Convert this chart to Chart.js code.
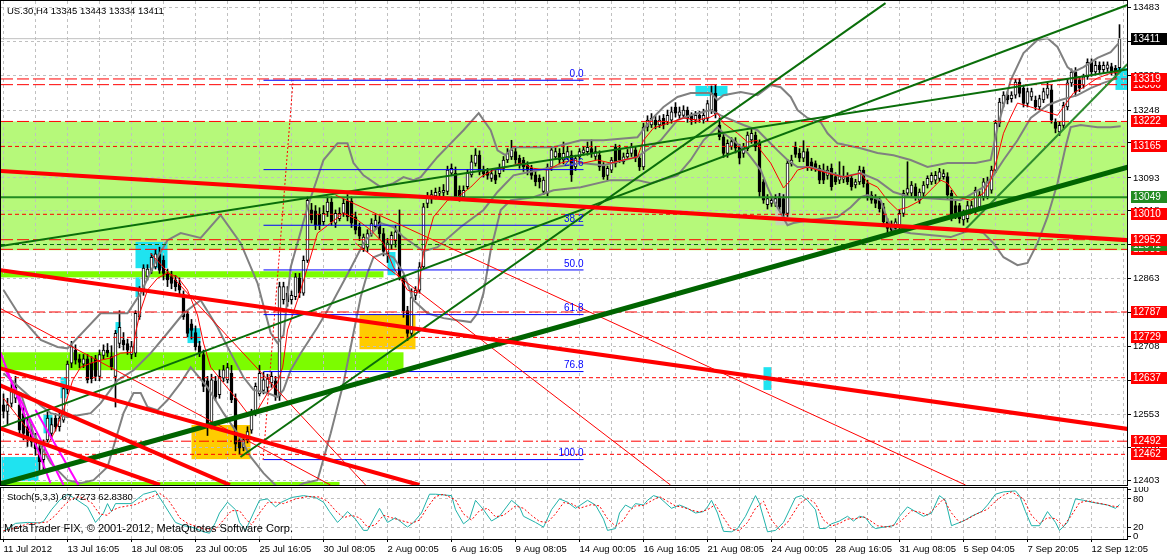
<!DOCTYPE html>
<html>
<head>
<meta charset="utf-8">
<title>US.30,H4</title>
<script src="https://cdn.jsdelivr.net/npm/chart.js@4.4.0/dist/chart.umd.min.js"></script>
<style>
  html, body { margin: 0; padding: 0; background: #fff; }
  #wrap { position: relative; width: 1167px; height: 556px; overflow: hidden; font-family: Tahoma, 'Liberation Sans', Arial, sans-serif; }
  #main { position: absolute; left: 0; top: 0; }
  #stoch { position: absolute; left: 0; top: 487px; }
  .txt { position: absolute; color: #000; white-space: pre; line-height: 12px; }
</style>
</head>
<body>
<div id="wrap">
  <canvas id="main" width="1167" height="486"></canvas>
  <canvas id="stoch" width="1167" height="69"></canvas>
  <div class="txt" style="left:7px;top:5px;font-size:9.5px;">US.30,H4 13345 13443 13334 13411</div>
  <div class="txt" style="left:7px;top:491px;font-size:9.5px;">Stoch(5,3,3) 67.7273 62.8380</div>
  <div class="txt" style="left:4px;top:522px;font-size:11px;">MetaTrader FIX, © 2001-2012, MetaQuotes Software Corp.</div>
</div>
<script>
// ---- price data (H4 bars) ----
const opens = [
  12575,12560,12578,12590,12575,12555,12525,12515,12495,12475, 12450,12495,12510,12545,12525,12540,12610,12670,12700,12680,
  12668,12680,12670,12680,12640,12688,12700,12685,12640,12715, 12723,12715,12690,12693,12776,12835,12868,12882,12890,12920,
  12905,12875,12868,12860,12852,12826,12783,12760,12740,12710, 12690,12630,12530,12630,12598,12636,12632,12647,12590,12495,
  12478,12495,12517,12556,12600,12608,12615,12625,12630,12595, 12815,12830,12815,12822,12865,12830,12905,13020,13018,13010,
  12993,13016,13038,12990,13000,13012,13040,13040,13004,12980, 12932,12935,12966,12982,12993,12966,12920,12940,12950,12966,
  12866,12790,12738,12825,12837,12890,13035,13045,13052,13058, 13060,13062,13104,13104,13065,13050,13073,13100,13126,13145,
  13111,13107,13092,13100,13103,13115,13134,13141,13153,13138, 13134,13122,13115,13100,13092,13062,13058,13118,13141,13149,
  13134,13141,13145,13118,13141,13150,13153,13160,13142,13145, 13122,13099,13111,13164,13160,13130,13141,13149,13157,13138,
  13118,13209,13214,13225,13214,13229,13221,13225,13255,13236, 13236,13248,13236,13225,13236,13225,13229,13248,13286,13214,
  13187,13149,13165,13176,13164,13149,13160,13180,13191,13172, 13084,13032,13035,13035,13050,13046,13012,13125,13163,13149,
  13138,13153,13130,13126,13115,13111,13099,13115,13096,13088, 13090,13096,13092,13077,13084,13111,13080,13054,13046,13042,
  13027,12993,12985,12978,12982,13012,13058,13058,13073,13042, 13058,13077,13084,13088,13092,13096,13096,13058,13030,13030,
  12997,13000,13019,13019,13027,13050,13050,13065,13111,13218, 13263,13282,13274,13282,13312,13298,13263,13278,13271,13255,
  13271,13282,13294,13221,13198,13213,13255,13310,13335,13317, 13305,13324,13357,13335,13350,13340,13343,13347,13343,13345
];
const highs = [
  12600,12590,12625,12640,12600,12570,12545,12530,12510,12485, 12495,12560,12545,12555,12560,12620,12675,12720,12712,12690,
  12690,12690,12685,12688,12700,12712,12715,12710,12745,12790, 12740,12725,12720,12790,12845,12895,12895,12920,12930,12935,
  12915,12885,12880,12870,12865,12835,12790,12770,12755,12720, 12700,12640,12645,12640,12655,12665,12670,12665,12600,12500,
  12505,12525,12565,12625,12665,12650,12645,12650,12640,12855, 12855,12845,12835,12875,12875,12915,13050,13035,13030,13025,
  13030,13050,13050,13020,13025,13045,13055,13050,13015,12990, 12965,12975,13000,13010,13005,12978,12955,12970,12985,13020,
  12870,12800,12840,12845,12900,13035,13060,13065,13070,13072, 13078,13120,13125,13118,13075,13075,13112,13145,13160,13155,
  13120,13115,13112,13110,13125,13142,13160,13179,13165,13145, 13140,13130,13122,13108,13100,13095,13125,13165,13162,13160,
  13175,13165,13155,13145,13160,13165,13175,13180,13165,13155, 13128,13120,13140,13170,13168,13150,13158,13172,13165,13145,
  13218,13235,13240,13235,13235,13238,13248,13255,13265,13255, 13258,13255,13242,13245,13245,13250,13270,13303,13305,13230,
  13195,13180,13185,13185,13170,13172,13198,13205,13198,13180, 13090,13055,13050,13055,13058,13055,13135,13145,13175,13160,
  13178,13160,13138,13132,13122,13125,13120,13125,13105,13130, 13120,13105,13100,13090,13120,13118,13088,13062,13055,13050,
  13035,13000,12995,13000,13020,13065,13130,13085,13080,13068, 13085,13098,13105,13108,13115,13112,13105,13065,13040,13035,
  13020,13040,13040,13072,13062,13092,13095,13120,13225,13275, 13290,13290,13290,13318,13320,13305,13298,13298,13280,13282,
  13298,13310,13305,13228,13220,13266,13318,13342,13345,13325, 13330,13365,13365,13360,13358,13358,13358,13355,13350,13443
];
const lows = [
  12545,12530,12570,12580,12505,12495,12480,12480,12460,12420, 12418,12490,12500,12515,12515,12535,12600,12660,12668,12660,
  12660,12625,12625,12630,12630,12680,12685,12655,12570,12705, 12700,12690,12680,12685,12770,12825,12860,12875,12885,12875,
  12860,12845,12840,12835,12825,12770,12730,12725,12700,12685, 12605,12505,12520,12585,12590,12628,12625,12580,12470,12462,
  12470,12488,12510,12550,12595,12600,12605,12615,12585,12585, 12805,12800,12805,12815,12820,12825,12900,12990,12975,12975,
  12985,13005,12985,12980,12995,13005,12995,12980,12965,12950, 12925,12925,12960,12975,12955,12915,12900,12930,12935,12860,
  12775,12722,12730,12815,12830,12885,13025,13035,13045,13050, 13052,13055,13098,13045,13040,13042,13068,13095,13120,13100,
  13095,13090,13085,13080,13095,13108,13128,13135,13126,13115, 13108,13100,13090,13075,13070,13055,13052,13110,13135,13125,
  13125,13135,13085,13110,13135,13145,13145,13140,13135,13110, 13090,13088,13105,13118,13128,13125,13135,13142,13130,13110,
  13112,13200,13208,13205,13208,13205,13215,13218,13232,13228, 13230,13220,13215,13218,13220,13218,13222,13240,13230,13180,
  13140,13140,13158,13150,13125,13140,13155,13172,13155,13050, 13035,13022,13028,13028,13020,13000,13005,13120,13140,13130,
  13130,13110,13110,13108,13080,13080,13090,13065,13078,13080, 13082,13078,13065,13070,13078,13072,13042,13035,13025,13015,
  12985,12968,12965,12968,12975,13005,13050,13050,13042,13035, 13050,13070,13078,13080,13085,13090,13045,12995,13000,12990,
  12985,12992,13012,13012,13020,13042,13045,13058,13105,13210, 13255,13262,13266,13275,13278,13255,13255,13270,13248,13248,
  13265,13275,13218,13196,13190,13206,13248,13302,13280,13290, 13298,13318,13325,13328,13332,13332,13336,13328,13322,13334
];
const closes = [
  12560,12575,12605,12615,12517,12510,12500,12490,12475,12445, 12487,12545,12530,12525,12545,12612,12668,12708,12677,12672,
  12680,12632,12635,12640,12690,12700,12693,12662,12738,12752, 12712,12700,12708,12784,12837,12887,12885,12912,12920,12882,
  12875,12860,12852,12845,12837,12776,12738,12745,12708,12693, 12617,12525,12632,12593,12640,12655,12660,12586,12485,12476,
  12495,12514,12556,12617,12647,12632,12635,12640,12593,12845, 12845,12810,12825,12867,12830,12905,13042,12997,12985,12985,
  13012,13038,12993,13012,13012,13035,13004,12990,12974,12960, 12958,12966,12989,12997,12966,12925,12945,12962,12970,12867,
  12790,12738,12820,12837,12890,13027,13050,13055,13060,13062, 13065,13111,13115,13050,13050,13065,13104,13130,13145,13107,
  13103,13099,13103,13088,13115,13134,13149,13157,13134,13122, 13118,13111,13099,13084,13084,13088,13118,13157,13153,13134,
  13149,13153,13100,13137,13153,13157,13163,13149,13153,13118, 13096,13115,13134,13126,13134,13141,13149,13164,13138,13118,
  13209,13225,13229,13214,13225,13214,13236,13244,13241,13244, 13248,13229,13225,13236,13229,13236,13263,13286,13240,13187,
  13149,13172,13176,13161,13138,13164,13191,13195,13164,13061, 13042,13046,13042,13046,13027,13012,13127,13134,13147,13138,
  13153,13118,13118,13115,13088,13088,13111,13073,13084,13096, 13094,13084,13073,13084,13111,13080,13050,13042,13035,13023,
  12993,12978,12974,12993,13012,13058,13069,13077,13050,13061, 13077,13092,13099,13099,13107,13103,13054,13004,13012,13000,
  13012,13030,13030,13065,13054,13084,13084,13111,13218,13266, 13282,13271,13282,13312,13286,13263,13290,13290,13255,13274,
  13290,13298,13225,13206,13213,13259,13310,13335,13289,13298, 13324,13357,13335,13350,13340,13350,13351,13336,13332,13411
];

// time axis labels, one every 16 bars
const timeLabels = ['11 Jul 2012', '13 Jul 16:05', '18 Jul 08:05', '23 Jul 00:05', '25 Jul 16:05', '30 Jul 08:05',
  '2 Aug 00:05', '6 Aug 16:05', '9 Aug 08:05', '14 Aug 00:05', '16 Aug 16:05', '21 Aug 08:05', '24 Aug 00:05',
  '28 Aug 16:05', '31 Aug 08:05', '5 Sep 04:05', '7 Sep 20:05', '12 Sep 12:05'];
const priceTicks = [12403, 12478, 12553, 12630, 12708, 12785, 12863, 12940, 13018, 13093, 13173, 13248, 13328, 13405, 13483];
const stochTicks = [0, 20, 80, 100];

// moving average [bar, price]
const maLine = [[0,12590],[4.3,12540],[8,12494],[11,12483],[13,12517],[15,12563],[17.3,12631],[19.3,12661],[21.8,12670],
  [24.3,12677],[26.8,12682],[29.3,12693],[32.3,12695],[33,12739],[34.3,12791],[36,12837],[38.5,12864],[41,12876],
  [43.5,12867],[46,12837],[48.5,12780],[50,12716],[51.8,12661],[55,12625],[58.5,12586],[61,12556],[63.5,12563],
  [66,12602],[68.5,12625],[69.8,12661],[71,12746],[73.5,12814],[76,12889],[78.5,12967],[81.8,12990],[85,13013],
  [88.5,12997],[91.8,12974],[95,12944],[97.5,12889],[101,12837],[103.5,12830],[105,12921],[107.5,13004],[111,13042],
  [113.5,13049],[116.8,13072],[119.3,13095],[122.5,13111],[126,13118],[129.3,13127],[132.5,13115],[136,13111],
  [139.3,13127],[142.5,13134],[145,13127],[148.5,13134],[151.8,13127],[155,13134],[158.5,13141],[160,13179],
  [162.5,13207],[166.8,13220],[170,13230],[173.5,13225],[176.8,13232],[178.5,13241],[180,13218],[183.5,13195],
  [186,13175],[188.5,13179],[189.3,13156],[191.8,13127],[195,13070],[196.8,13088],[198.5,13111],[201,13118],
  [206,13104],[210,13095],[214.3,13104],[216,13083],[218.5,13072],[221,13042],[223.5,13020],[226,13026],[229.3,13042],
  [232.5,13072],[234.3,13088],[236,13081],[238.5,13049],[241.8,13042],[245,13058],[246.8,13088],[248.5,13141],
  [250,13195],[251.8,13232],[253.5,13264],[256.8,13255],[259.3,13248],[261.8,13241],[263.5,13236],[265,13255],
  [267.5,13287],[270,13300],[273.5,13321],[276.8,13332],[279.3,13335]];

// bollinger bands [bar, price]
const bbUpper = [[0,12837],[4.3,12775],[9.3,12723],[13.5,12707],[16,12704],[24.3,12784],[31,12784],[34.3,12830],
  [38.5,12912],[41,12951],[44.3,12967],[49.3,12956],[54.3,13008],[59.3,12944],[63.5,12853],[66.8,12739],[68.5,12716],
  [70,12734],[71.8,12889],[76,13026],[80,13134],[83.5,13172],[86,13172],[87.5,13127],[90,13099],[94.3,13072],
  [97.5,13081],[100,13095],[102.5,13088],[104.3,13095],[108.5,13141],[111.8,13172],[115,13202],[118.8,13241],
  [121.8,13202],[123.5,13156],[125.5,13145],[127.5,13163],[137.5,13163],[144.3,13179],[150,13179],[158.5,13186],
  [161.8,13225],[165,13255],[168.5,13278],[171.8,13287],[176.8,13287],[178.5,13271],[180,13282],[184.3,13289],
  [188.5,13282],[191.8,13305],[194.3,13300],[196.8,13278],[198.5,13248],[201,13230],[204.3,13220],[206,13195],
  [208.5,13172],[214.3,13161],[218.5,13150],[222.5,13145],[226.8,13134],[231,13118],[236,13127],[243,13127],
  [246.8,13134],[248.5,13209],[251.8,13316],[255,13378],[258.5,13408],[261,13412],[263.5,13392],[266,13346],
  [267.5,13335],[270,13346],[273.5,13367],[276.8,13380],[278.8,13401]];
const bbMiddle = [[0,12647],[7.5,12586],[11.8,12556],[16,12547],[21.8,12556],[24.3,12579],[28.5,12631],[32.5,12654],
  [36.8,12693],[41,12739],[45,12784],[49.3,12814],[53.5,12752],[56.8,12693],[60,12638],[62.5,12609],[66,12602],
  [68.5,12593],[70,12609],[71.8,12654],[74.3,12693],[78.5,12752],[82.5,12814],[86.8,12887],[90,12944],[94.3,12990],
  [97.5,12981],[100,12958],[105,12926],[108.5,12935],[114.3,12981],[120,13020],[123.5,13061],[127.5,13099],
  [136,13115],[144.3,13127],[150,13122],[158.5,13141],[164.3,13179],[168.5,13225],[171.8,13236],[176.8,13248],
  [179.3,13236],[185,13214],[188.5,13202],[191,13179],[193.5,13156],[196,13134],[198.5,13118],[201.8,13118],
  [210,13095],[214.3,13104],[218.5,13088],[222.5,13061],[226.8,13049],[239.3,13042],[245,13072],[247.5,13099],
  [250,13134],[253.5,13179],[256.8,13230],[261,13259],[264.3,13271],[268.5,13282],[271.8,13298],[275,13310],
  [278.5,13321]];
const bbLower = [[0,12615],[4.3,12602],[7.5,12510],[11.8,12442],[16,12403],[19.3,12396],[22.5,12403],[26,12433],
  [28.5,12510],[30,12556],[32.5,12602],[34.3,12602],[36,12570],[38.5,12563],[41,12586],[44.3,12625],[46.8,12661],
  [51,12615],[55,12556],[58.5,12510],[61.8,12456],[65,12419],[68.5,12387],[71.8,12380],[75,12396],[78.5,12403],
  [81.8,12510],[85,12625],[87.5,12739],[89.3,12821],[91,12876],[92.5,12912],[95,12921],[97.5,12912],[100,12876],
  [102.5,12814],[106,12784],[110,12773],[113.5,12768],[116.8,12764],[118.5,12784],[120,12830],[121.8,12928],
  [124.3,13020],[126.8,13042],[132.5,13049],[137.5,13065],[144.3,13072],[151.8,13088],[158.5,13088],[161.8,13081],
  [168.5,13099],[171.8,13134],[175,13179],[178.5,13209],[180,13195],[182.5,13179],[186,13150],[189.3,13111],
  [191,13072],[192.5,13042],[194.3,13013],[196,12985],[197.5,12990],[201.8,12997],[208.5,13004],[211.8,13026],
  [214.3,13049],[216,13054],[219.3,13042],[221,12997],[222.5,12974],[226.8,12967],[236.8,12958],[241.8,12974],
  [245,12967],[247.5,12944],[250,12912],[253.5,12894],[256,12899],[258.5,12944],[261,13004],[263.5,13081],
  [265.5,13163],[266.8,13209],[269.3,13214],[273.5,13209],[276.8,13209],[279.3,13211]];

// stochastic [bar, value]
const stochMain = [[0,10],[3,28],[6,30],[9,29],[10,32],[12,57],[14,77],[16,90],[18,80],[21,63],[23,30],[25,50],[26,70],
  [27,53],[28,70],[32,70],[35,90],[38,97],[40,70],[42,43],[43,30],[45,23],[47,20],[50,10],[51.5,7],[53,30],[54,50],
  [56,73],[58,57],[59,30],[60.5,13],[62.5,50],[64,77],[66,80],[68,63],[69.5,73],[72,83],[75,87],[78,83],[80,73],
  [81.5,53],[83.5,30],[85,43],[86,53],[88,37],[90,13],[91,13],[94,60],[96,30],[98,40],[101,20],[102.5,30],[104.5,50],
  [106.5,90],[108,90],[112,87],[113,57],[115,27],[116.5,37],[118,77],[120,57],[122,33],[124,43],[127,77],[129,63],
  [130,43],[133,30],[135,20],[137,57],[139,80],[141,73],[143,60],[146,77],[148,67],[150,37],[151,13],[153,17],[154,50],
  [155.5,67],[157,60],[158,70],[160,67],[161,77],[162.5,87],[164,83],[167,60],[169,67],[171,60],[173,50],[175,53],
  [176,63],[177,77],[178.5,50],[180,11],[182,10],[183.5,17],[185.5,43],[188,87],[189,70],[191,10],[193,13],[195,30],
  [198,83],[199.5,87],[201,77],[203,57],[204,17],[205.5,17],[207,27],[209,33],[211,43],[212.5,33],[214,43],[215.5,40],
  [217,23],[218,17],[220,20],[222.5,23],[224,43],[226,63],[228,53],[230,43],[232,50],[234,87],[235.5,77],[237,23],
  [240,33],[242,43],[244.5,53],[246,67],[248,90],[250,95],[253,97],[254,87],[255.5,53],[257,23],[259,23],[261,53],
  [263,30],[264,13],[266,30],[268,80],[270,77],[272,73],[274,70],[276,67],[278,60],[279,68]];
const stochSignal = [[0,12],[3,18],[6,27],[9,29],[11,31],[13,45],[15,65],[17,80],[19,85],[22,72],[24,48],[26,45],
  [27,55],[29,62],[33,68],[36,80],[39,92],[41,80],[43,55],[44,40],[46,28],[48,22],[51,14],[53,16],[55,35],[57,55],
  [59,55],[60.5,38],[62,25],[64,50],[66,72],[68,73],[70,70],[73,80],[76,85],[79,84],[81,75],[83,55],[85,40],[87,45],
  [89,40],[91,20],[93,25],[95,45],[97,40],[99,35],[102,28],[104,35],[106,62],[108,85],[110,90],[113,78],[115,48],
  [117,35],[119,55],[121,60],[123,42],[125,45],[128,65],[130,60],[132,45],[134,32],[136,30],[138,48],[140,72],
  [142,70],[144,60],[147,68],[149,65],[151,38],[153,22],[155,35],[156.5,55],[158,65],[160,66],[162,76],[164,85],
  [166,75],[168,65],[170,62],[172,56],[174,52],[176,57],[178,68],[180,40],[182,15],[184,13],[186,30],[188,60],
  [190,75],[192,35],[194,15],[196,30],[199,70],[201,82],[203,70],[205,35],[207,22],[209,28],[211,37],[213,38],
  [215,42],[216.5,35],[218.5,23],[221,20],[223.5,27],[225,38],[227,55],[229,52],[231,46],[233,62],[235,80],[237,50],
  [239,30],[241,37],[243,47],[246,58],[248,75],[250,88],[252,95],[255,80],[257,45],[259,28],[261,40],[263,38],
  [265,22],[267,45],[269,72],[271,76],[273,72],[275,69],[277,65],[279,63]];

// horizontal levels (prices) and their right-hand tags
const levelPrices = [13411, 13319, 13306, 13222, 13165, 13049, 13010, 12952, 12941, 12930, 12787, 12729, 12637, 12492, 12462];
// fibonacci levels
const fibNames = ['0.0', '23.6', '38.2', '50.0', '61.8', '76.8', '100.0'];
const fibPrices = [13316, 13112, 12985, 12883, 12781, 12651, 12450];
const fibBars = [65, 145];
const fibBase = [[64.9, 12449], [72.4, 13316]];

// trend lines: [[bar, price], [bar, price]]
const greenThick = [[-1, 12394], [282, 13120]];
const greenLines = [
  [[-1, 12937], [281, 13341]],
  [[-1, 12522], [281, 13488]],
  [[59.25, 12456], [220.5, 13492]],
  [[239.75, 12969], [281, 13353]]
];
const redThick = [
  [[-1, 13109], [281, 12951]],
  [[-1, 12883], [281, 12520]],
  [[-1, 12659], [104, 12392]],
  [[-1, 12620], [56.6, 12392]],
  [[-1, 12522], [39.1, 12392]]
];
const redThin = [
  [[36.75, 12921], [90.5, 12392]],
  [[83, 13054], [240.5, 12392]],
  [[88, 12944], [166.75, 12392]],
  [[-1, 12796], [81.75, 12392]]
];
const magentaLines = [
  [[-1, 12700], [11.75, 12396]],
  [[0.5, 12654], [15, 12392]],
  [[8, 12563], [18.75, 12392]]
];

// rectangles: [barFrom, barTo, priceTop, priceBottom]
const greenZone = [[-1, 282, 13222, 12928]];
const limeZones = [[-1, 95, 12880, 12866], [-1, 100, 12695, 12654], [-1, 84, 12399, 12392]];
const goldZones = [[47, 61.75, 12529, 12451], [89, 103, 12782, 12702]];
const aquaZones = [[-0.5, 8.75, 12456, 12401], [33, 41, 12947, 12887], [33, 34.25, 12866, 12821], [96, 98, 12924, 12871],
  [173, 181, 13303, 13280], [190, 192, 12661, 12609], [278, 282, 13344, 13294], [46, 49.25, 12750, 12716],
  [14.25, 15.75, 12638, 12590], [28, 29.25, 12764, 12739], [10, 12.25, 12552, 12510]];
const greyZones = [[193, 196.75, 13058, 12985]];

// ---- drawing ----
const FONT = "Tahoma, 'Liberation Sans', Arial, sans-serif";
const X_MIN = -0.625, X_MAX = 280.875;
const RED = '#ff0000';

const levelStyle = {
  13411: ['#c0c0c0', 1, [], '#000000'],
  13319: [RED, 1, [12, 4], RED], 13306: [RED, 1, [12, 4], RED], 13222: [RED, 1, [12, 4], RED],
  13165: [RED, 1, [4, 3], RED], 13049: ['#228b22', 2, [], '#228b22'], 13010: [RED, 1, [4, 3], RED],
  12952: [RED, 1, [12, 4], RED], 12941: ['#006400', 1, [4, 3], '#228b22'], 12930: [RED, 1, [12, 4], RED],
  12787: [RED, 1, [12, 4], RED], 12729: [RED, 1, [4, 3], RED], 12637: [RED, 1, [4, 3], RED],
  12492: [RED, 1, [10, 3, 2, 3], RED], 12462: [RED, 1, [4, 3], RED]
};

function seg(points, color, width, dash, order) {
  return {
    type: 'line', data: points.map(p => ({ x: p[0], y: p[1] })),
    borderColor: color, borderWidth: width, borderDash: dash || [],
    pointRadius: 0, fill: false, tension: 0, clip: 0, order: order
  };
}

// keep tick labels from pushing the plot area inwards
function fixWidth(s) { s.width = 40; s.paddingTop = 0; s.paddingBottom = 0; }
function fixHeight(h) { return s => { s.height = h; s.paddingLeft = 0; s.paddingRight = 0; }; }

const gridBars = [];
for (let b = 0; b <= 280; b += 8) gridBars.push(b);

const bars = opens.map((o, i) => i);
const datasets = [
  { type: 'bar', data: bars.map(i => ({ x: i, y: [lows[i], highs[i]] })), backgroundColor: '#000',
    barThickness: 1, grouped: false, order: 30 },
  { type: 'bar', data: bars.map(i => ({ x: i, y: [opens[i], closes[i]] })),
    backgroundColor: bars.map(i => closes[i] >= opens[i] ? '#ffffff' : '#000000'),
    borderColor: '#000', borderWidth: 1, borderSkipped: false, minBarLength: 1,
    barThickness: 3, grouped: false, order: 29 },
  seg(bbUpper, '#808080', 2, [], 20),
  seg(bbMiddle, '#808080', 2, [], 20),
  seg(bbLower, '#808080', 2, [], 20),
  seg(maLine, RED, 1, [], 19)
];
levelPrices.forEach(p => {
  const s = levelStyle[p];
  datasets.push(seg([[X_MIN, p], [X_MAX, p]], s[0], s[1], s[2], 10));
});
fibPrices.forEach(p => datasets.push(seg([[fibBars[0], p], [fibBars[1], p]], '#0000ff', 1, [], 9)));
datasets.push(seg(fibBase, RED, 1, [2, 2], 9));
redThin.forEach(l => datasets.push(seg(l, RED, 1, [], 8)));
magentaLines.forEach(l => datasets.push(seg(l, '#ff00ff', 2, [], 7)));
datasets.push(seg(greenThick, '#006400', 5, [], 6));
greenLines.forEach((l, k) => datasets.push(seg(l, k === 3 ? '#2e8b2e' : '#0a6e0a', 2, [], 6)));
redThick.forEach(l => datasets.push(seg(l, RED, 4, [], 5)));

function fillZones(chart, list, color) {
  const { ctx, scales: { x, y } } = chart;
  ctx.fillStyle = color;
  list.forEach(z => {
    const x1 = x.getPixelForValue(z[0]), x2 = x.getPixelForValue(z[1]);
    const y1 = y.getPixelForValue(z[2]), y2 = y.getPixelForValue(z[3]);
    ctx.fillRect(x1, y1, x2 - x1, y2 - y1);
  });
}

const zonePlugin = {
  id: 'zones',
  beforeDraw(chart) {
    const { ctx, chartArea: a } = chart;
    ctx.save();
    ctx.beginPath();
    ctx.rect(a.left, a.top, a.right - a.left, a.bottom - a.top);
    ctx.clip();
    fillZones(chart, greenZone, '#b6f97a');
    fillZones(chart, limeZones, '#7cfc00');
    fillZones(chart, goldZones, '#ffcc00');
    fillZones(chart, aquaZones, '#1fe3f0');
    fillZones(chart, greyZones, '#c4d6b4');
    ctx.restore();
  }
};

const framePlugin = {
  id: 'frame',
  afterDraw(chart) {
    const { ctx, chartArea: a } = chart;
    ctx.save();
    ctx.strokeStyle = '#000';
    ctx.lineWidth = 1;
    ctx.strokeRect(a.left - 0.5, a.top - 0.5, a.right - a.left + 1, a.bottom - a.top + 1);
    ctx.restore();
  }
};

const tagPlugin = {
  id: 'tags',
  afterDraw(chart) {
    const { ctx, chartArea: a, scales: { x, y } } = chart;
    ctx.save();
    ctx.font = '10px ' + FONT;
    ctx.textBaseline = 'middle';
    // fib captions
    ctx.fillStyle = '#0000ff';
    ctx.textAlign = 'right';
    fibPrices.forEach((p, k) => {
      ctx.fillText(fibNames[k], x.getPixelForValue(fibBars[1]), y.getPixelForValue(p) - 6);
    });
    // price tags on the axis, lower prices first
    ctx.textAlign = 'left';
    levelPrices.slice().sort((m, n) => m - n).forEach(p => {
      const yy = Math.round(y.getPixelForValue(p));
      ctx.fillStyle = levelStyle[p][3];
      ctx.fillRect(a.right + 4, yy - 6, 36, 12);
      ctx.fillStyle = '#fff';
      ctx.fillText(String(p), a.right + 6, yy);
    });
    ctx.restore();
  }
};

new Chart(document.getElementById('main'), {
  type: 'bar',
  data: { datasets: datasets },
  options: {
    responsive: false, animation: false, events: [],
    layout: { padding: { left: 1, top: 1, right: 0, bottom: 1 } },
    plugins: { legend: { display: false }, tooltip: { enabled: false } },
    scales: {
      x: {
        type: 'linear', min: X_MIN, max: X_MAX, offset: false,
        afterBuildTicks: s => { s.ticks = gridBars.map(v => ({ value: v })); },
        afterFit: fixHeight(0),
        ticks: { display: false },
        grid: { color: '#c0c0c0', drawTicks: false, offset: false },
        border: { display: false, dash: [3, 3] }
      },
      y: {
        type: 'linear', position: 'right', min: 12392, max: 13497,
        afterBuildTicks: s => { s.ticks = priceTicks.map(v => ({ value: v })); },
        afterFit: fixWidth,
        ticks: { color: '#000', font: { family: FONT, size: 9.5 }, padding: 2, autoSkip: false, callback: v => String(v) },
        grid: { color: '#c0c0c0', tickLength: 4, tickColor: '#000', tickBorderDash: [] },
        border: { display: false, dash: [3, 3] }
      }
    }
  },
  plugins: [zonePlugin, framePlugin, tagPlugin]
});

new Chart(document.getElementById('stoch'), {
  type: 'line',
  data: {
    datasets: [
      seg(stochMain, '#20b2aa', 1, [], 2),
      seg(stochSignal, RED, 1, [2, 2], 1)
    ]
  },
  options: {
    responsive: false, animation: false, events: [],
    layout: { padding: { left: 1, top: 1, right: 0, bottom: 0 } },
    plugins: { legend: { display: false }, tooltip: { enabled: false } },
    scales: {
      x: {
        type: 'linear', min: X_MIN, max: X_MAX, offset: false,
        afterBuildTicks: s => { s.ticks = gridBars.map(v => ({ value: v })); },
        afterFit: fixHeight(17),
        ticks: {
          color: '#000', font: { family: FONT, size: 9.5 }, padding: 2, align: 'start',
          autoSkip: false, maxRotation: 0,
          callback: v => (v % 16 === 0 && timeLabels[v / 16]) ? timeLabels[v / 16] : ''
        },
        grid: { color: '#c0c0c0', tickLength: 3, tickColor: c => (c.tick && c.tick.value % 16 === 0) ? '#000' : 'rgba(0,0,0,0)', tickBorderDash: [] },
        border: { display: false, dash: [3, 3] }
      },
      y: {
        type: 'linear', position: 'right', min: -5.3, max: 103.2,
        afterBuildTicks: s => { s.ticks = stochTicks.map(v => ({ value: v })); },
        afterFit: fixWidth,
        ticks: { color: '#000', font: { family: FONT, size: 9.5 }, padding: 2, autoSkip: false },
        grid: { color: c => (c.tick && (c.tick.value === 20 || c.tick.value === 80)) ? '#c0c0c0' : 'rgba(0,0,0,0)', tickLength: 4, tickColor: '#000', tickBorderDash: [] },
        border: { display: false, dash: [3, 3] }
      }
    }
  },
  plugins: [framePlugin]
});
</script>
</body>
</html>
